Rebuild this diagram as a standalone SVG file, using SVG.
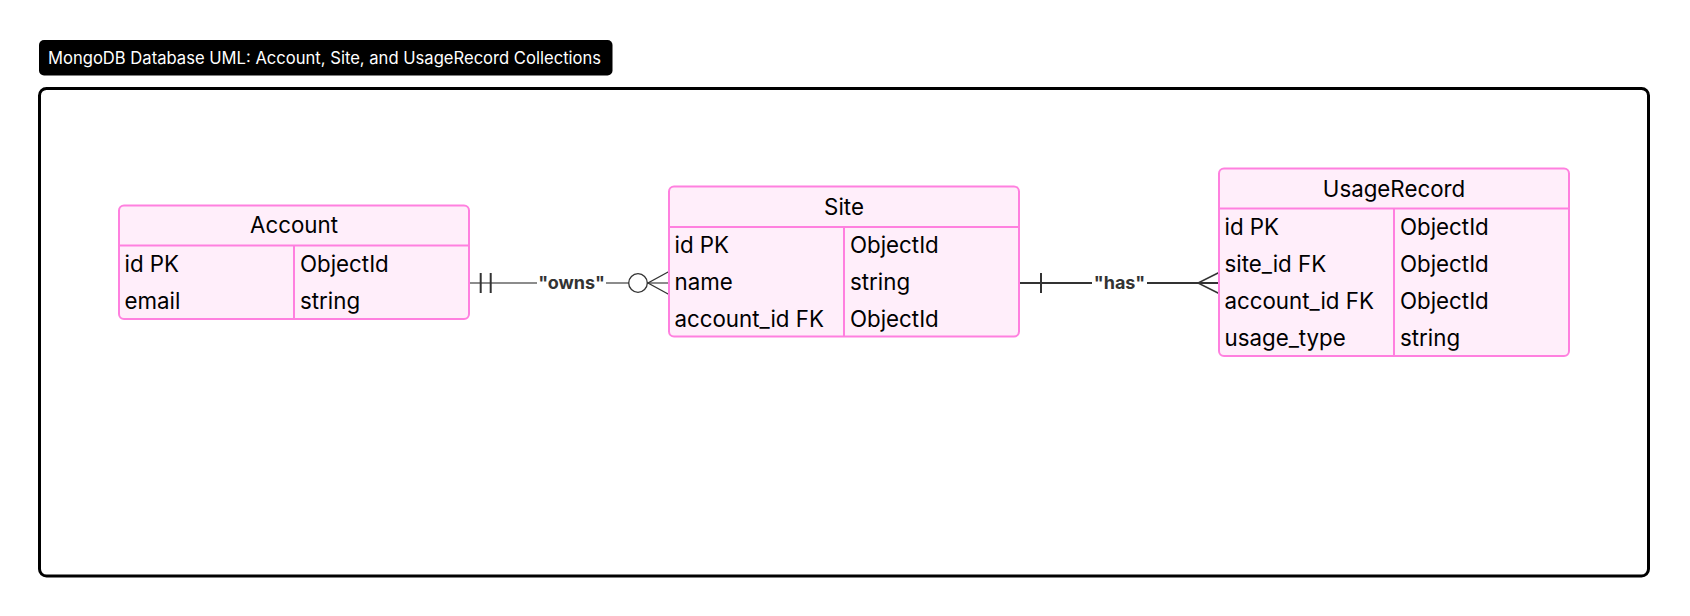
<svg xmlns="http://www.w3.org/2000/svg" width="1690" height="616" viewBox="0 0 1690 616">
<style>
.box{fill:#FFEEFA;stroke:#FF80DF;stroke-width:2}
.sep{stroke:#FF80DF;stroke-width:2;fill:none}
.hdr{font-family:Inter,"Liberation Sans",sans-serif;font-size:22.3px;fill:#000;text-anchor:middle}
.cell{font-family:Inter,"Liberation Sans",sans-serif;font-size:22.3px;fill:#000}
.lbl{font-family:Inter,"Liberation Sans",sans-serif;font-size:18px;font-weight:bold;fill:#333;text-anchor:middle}
.mk{stroke:#333;stroke-width:2;fill:none}
.title{font-family:Inter,"Liberation Sans",sans-serif;font-size:16.6px;fill:#fff}
</style>
<rect width="1690" height="616" fill="#fff"/>
<g id="title">
<rect x="39" y="40" width="573.5" height="35.5" rx="5" fill="#000"/>
<text class="title" x="48" y="63.8">MongoDB Database UML: Account, Site, and UsageRecord Collections</text>
</g>
<rect id="frame" x="39.5" y="88.5" width="1609" height="487.5" rx="7" fill="#fff" stroke="#000" stroke-width="3"/>
<g id="connectors">
<g id="owns">
<line x1="470" y1="283" x2="669" y2="283" stroke="#666" stroke-width="1.3"/>
<line class="mk" x1="480.7" y1="273" x2="480.7" y2="293"/>
<line class="mk" x1="490.7" y1="273" x2="490.7" y2="293"/>
<circle cx="638" cy="283" r="9.3" fill="#fff" stroke="#333" stroke-width="1.3"/>
<path d="M669,271.5 L648,283 L669,294.5" fill="none" stroke="#333" stroke-width="1.3"/>
<rect x="537" y="273" width="69" height="20" fill="#fff"/>
<text class="lbl" x="571.5" y="288.5">"owns"</text>
</g>
<g id="has">
<line x1="1019" y1="283" x2="1219" y2="283" stroke="#333" stroke-width="2"/>
<line class="mk" x1="1041" y1="273" x2="1041" y2="293"/>
<path d="M1219,272.5 L1198,283 L1219,293.5" fill="none" stroke="#333" stroke-width="1.5"/>
<rect x="1092" y="273" width="55" height="20" fill="#fff"/>
<text class="lbl" x="1119.5" y="288.5">"has"</text>
</g>
</g>
<g id="Account">
<rect class="box" x="119" y="205.5" width="350" height="113.5" rx="5"/>
<line class="sep" x1="119" y1="245.5" x2="469" y2="245.5"/>
<line class="sep" x1="294" y1="245.5" x2="294" y2="319"/>
<text class="hdr" x="294" y="233">Account</text>
<text class="cell" x="124.5" y="271.5">id PK</text><text class="cell" x="300" y="271.5">ObjectId</text>
<text class="cell" x="124.5" y="308.5">email</text><text class="cell" x="300" y="308.5">string</text>
</g>
<g id="Site">
<rect class="box" x="669" y="186.5" width="350" height="150" rx="5"/>
<line class="sep" x1="669" y1="227" x2="1019" y2="227"/>
<line class="sep" x1="844" y1="227" x2="844" y2="336.5"/>
<text class="hdr" x="844" y="214.5">Site</text>
<text class="cell" x="674.5" y="253">id PK</text><text class="cell" x="850" y="253">ObjectId</text>
<text class="cell" x="674.5" y="290">name</text><text class="cell" x="850" y="290">string</text>
<text class="cell" x="674.5" y="326.5">account_id FK</text><text class="cell" x="850" y="326.5">ObjectId</text>
</g>
<g id="UsageRecord">
<rect class="box" x="1219" y="168.5" width="350" height="187.5" rx="5"/>
<line class="sep" x1="1219" y1="208.5" x2="1569" y2="208.5"/>
<line class="sep" x1="1394" y1="208.5" x2="1394" y2="356"/>
<text class="hdr" x="1394" y="196.5">UsageRecord</text>
<text class="cell" x="1224.5" y="235">id PK</text><text class="cell" x="1400" y="235">ObjectId</text>
<text class="cell" x="1224.5" y="272">site_id FK</text><text class="cell" x="1400" y="272">ObjectId</text>
<text class="cell" x="1224.5" y="309">account_id FK</text><text class="cell" x="1400" y="309">ObjectId</text>
<text class="cell" x="1224.5" y="345.5">usage_type</text><text class="cell" x="1400" y="345.5">string</text>
</g>
</svg>
